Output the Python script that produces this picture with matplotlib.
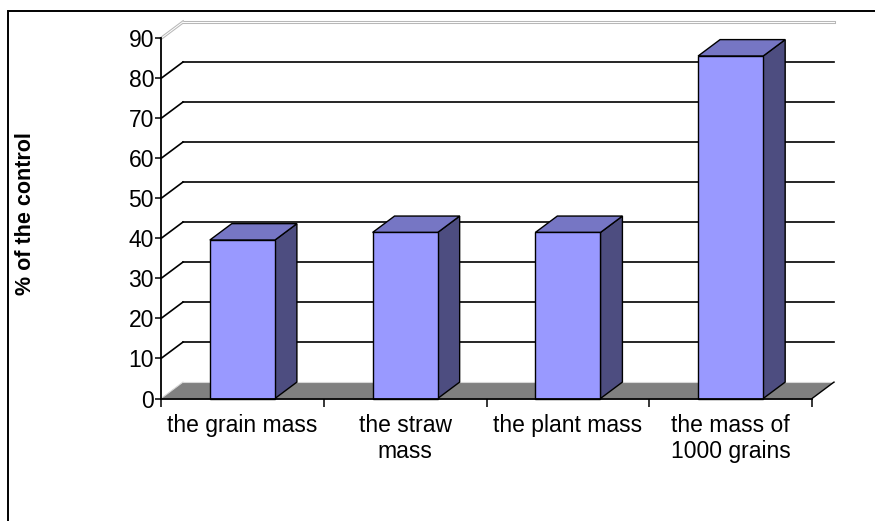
"""3D-style column chart: yield components as % of the control."""
import matplotlib
matplotlib.use("Agg")
import matplotlib.pyplot as plt
from matplotlib.patches import Polygon, Rectangle

plt.rcParams["font.family"] = ["Liberation Sans", "DejaVu Sans"]

categories = ["the grain mass", "the straw\nmass", "the plant mass", "the mass of\n1000 grains"]
values = [39.6, 41.5, 41.5, 85.6]
y_ticks = list(range(0, 100, 10))

FRONT = "#9999ff"
TOP = "#7676c4"
SIDE = "#4d4d80"
FLOOR = "#808080"

DX, DY = 0.135, 4.1      # depth offset (category units, value units)
BAR_W = 0.4
YMAX = 90

fig = plt.figure(figsize=(8.75, 5.21), dpi=100)
ax = fig.add_axes([161 / 875, 122.5 / 521, 673 / 875, 376.5 / 521])
n = len(categories)
ax.set_xlim(0, n + DX)
ax.set_ylim(0, YMAX + DY)
ax.set_facecolor("none")

# back wall gridlines + left wall diagonals
for v in y_ticks[1:-1]:
    ax.plot([DX, n + DX], [v + DY, v + DY], color="black", lw=1.2, zorder=1, clip_on=False)
    ax.plot([0, DX], [v, v + DY], color="black", lw=1.2, zorder=1, clip_on=False)
# top edge of the walls (light grey double line)
for lw, c in ((2.2, "#b8b8b8"), (0.7, "white")):
    ax.plot([DX, n + DX], [YMAX + DY, YMAX + DY], color=c, lw=lw, zorder=1, clip_on=False)
    ax.plot([0, DX], [YMAX, YMAX + DY], color=c, lw=lw, zorder=1, clip_on=False)

# floor
ax.add_patch(Polygon([(0, 0), (n, 0), (n + DX, DY), (DX, DY)], closed=True,
                     facecolor=FLOOR, edgecolor="none", zorder=2, clip_on=False))
ax.plot([DX, n + DX], [DY, DY], color="#d8d8d8", lw=0.8, zorder=2, clip_on=False)
ax.plot([0, DX], [0, DY], color="#d8d8d8", lw=0.8, zorder=2, clip_on=False)
ax.plot([n, n + DX], [0, DY], color="black", lw=1.0, zorder=2, clip_on=False)

# bars
for i, v in enumerate(values):
    x0 = i + 0.5 - BAR_W / 2
    x1 = i + 0.5 + BAR_W / 2
    kw = dict(closed=True, edgecolor="black", lw=1.0, zorder=3, clip_on=False, joinstyle="miter")
    ax.add_patch(Polygon([(x1, 0), (x1 + DX, DY), (x1 + DX, v + DY), (x1, v)], facecolor=SIDE, **kw))
    ax.add_patch(Polygon([(x0, v), (x1, v), (x1 + DX, v + DY), (x0 + DX, v + DY)], facecolor=TOP, **kw))
    ax.add_patch(Polygon([(x0, 0), (x1, 0), (x1, v), (x0, v)], facecolor=FRONT, **kw))

# front axes
for s in ("top", "right"):
    ax.spines[s].set_visible(False)
ax.spines["left"].set_bounds(0, YMAX)
ax.spines["bottom"].set_bounds(0, n)
for s in ("left", "bottom"):
    ax.spines[s].set_linewidth(1.3)
    ax.spines[s].set_zorder(4)
ax.set_yticks(y_ticks)
ax.tick_params(axis="y", length=4, width=1.1, pad=1, labelsize=16.5)
ax.set_xticks(range(n + 1))
ax.set_xticklabels([])
ax.tick_params(axis="x", which="major", length=5.5, width=1.1)
ax.set_xticks([i + 0.5 for i in range(n)], minor=True)
ax.set_xticklabels(categories, minor=True, fontsize=16.5)
ax.tick_params(axis="x", which="minor", length=0, pad=11)

fig.text(26 / 875, 1 - 214 / 521, "% of the control", rotation=90, ha="center", va="center",
         fontsize=15.5, fontweight="bold")

# chart area border (runs off the right and bottom edges)
fig.patches.append(Rectangle((8 / 875, -0.05), 1.0, 1 - 11 / 521 + 0.05, transform=fig.transFigure,
                             fill=False, edgecolor="black", lw=1.4))

fig.savefig("out.png", dpi=100, facecolor="white")
